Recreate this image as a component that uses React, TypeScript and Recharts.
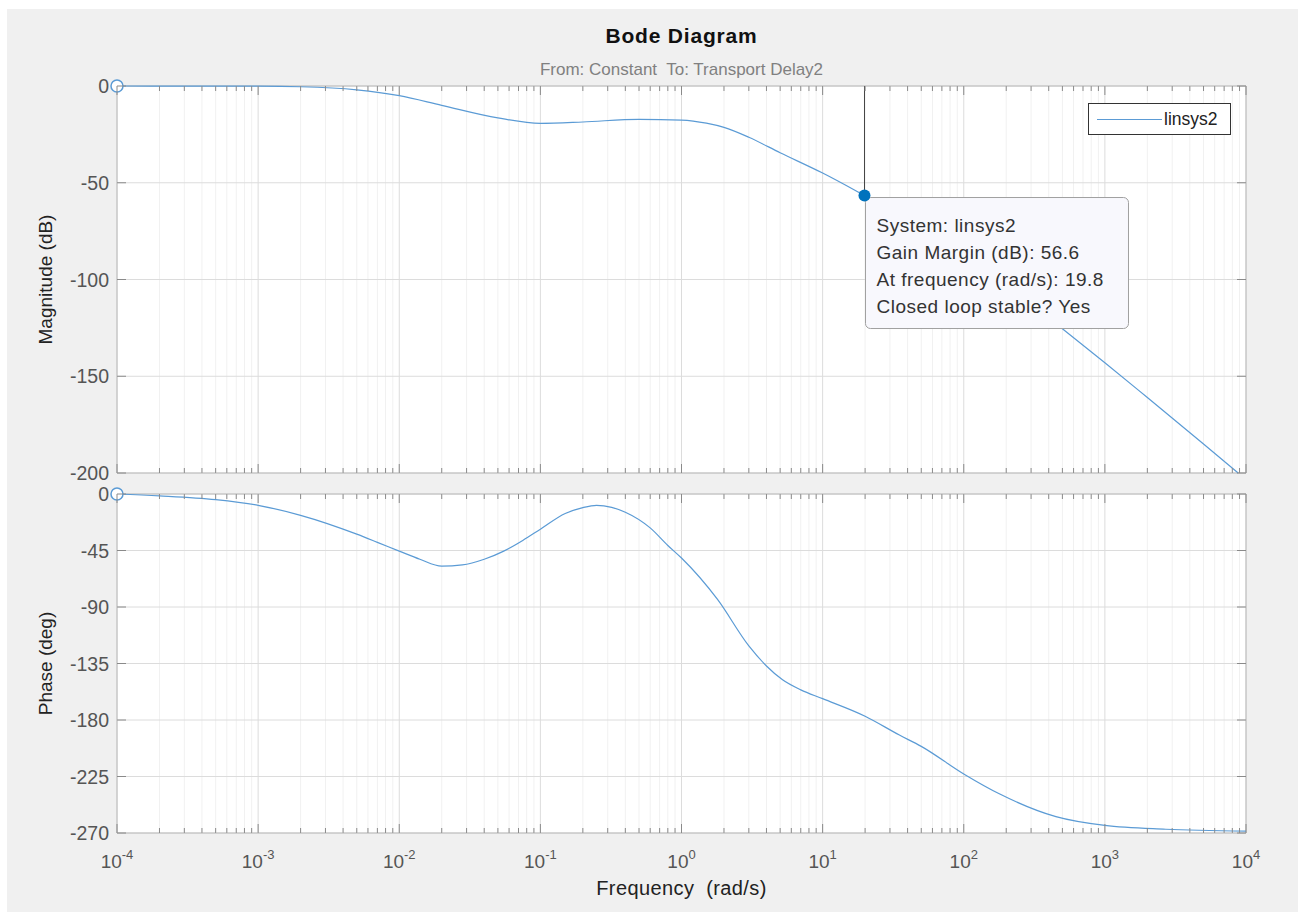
import React from "react"
import { Line, LineChart, ReferenceArea, ReferenceDot, ReferenceLine, XAxis, YAxis } from "recharts"

// magnitude
const magFreq = [1e-4, 3e-4, 1e-3, 2e-3, 5e-3, 1e-2, 2e-2, 5e-2, 0.1, 0.2, 0.5, 1, 1.5, 2, 3, 5, 10, 19.8, 50, 100, 200, 500, 1000, 2000, 5000, 8800]
const magDb = [0, -0.05, -0.1, -0.4, -2, -5, -10, -16.5, -19.3, -18.6, -17.2, -17.6, -19.2, -21.4, -26.5, -34.5, -45, -56.6, -73, -87, -103, -125.5, -143, -161, -185, -200]

// phase
const phaseFreq = [1e-4, 2e-4, 5e-4, 1e-3, 2e-3, 5e-3, 7e-3, 1e-2, 1.4e-2, 2e-2, 2.8e-2, 4e-2, 5.5e-2, 7.5e-2, 0.1, 0.15, 0.2, 0.25, 0.32, 0.4, 0.6, 0.8, 1, 1.8, 3, 4, 5.2, 7, 10, 20, 35, 50, 100, 180, 450, 1000, 2700, 10000]
const phaseDeg = [0, -1.5, -4.5, -9, -17, -32, -38.5, -45.5, -52, -57.5, -56.5, -52, -45.5, -37, -28, -15.5, -10.8, -9, -10.6, -14.5, -27, -41, -51, -84, -121, -137, -148, -156, -163, -177, -192, -201, -223, -239, -257, -264, -267, -268.5]

const decades = [1e-4, 1e-3, 1e-2, 1e-1, 1, 10, 100, 1000, 10000]
const minorSteps = [2, 3, 4, 5, 6, 7, 8, 9]
const magTicks = [0, -50, -100, -150, -200]
const phaseTicks = [0, -45, -90, -135, -180, -225, -270]

const gainMargin = { freq: 19.8, db: -56.6 }
const tipLines = ["System: linsys2", "Gain Margin (dB): 56.6", "At frequency (rad/s): 19.8", "Closed loop stable? Yes"]

const minorTicks = decades.slice(0, -1).flatMap((d) => minorSteps.map((m) => m * d))
const xTicks = [...decades, ...minorTicks].sort((a, b) => a - b)

const magData = magFreq.map((f, i) => ({ f, v: magDb[i] }))
const phaseData = phaseFreq.map((f, i) => ({ f, v: phaseDeg[i] }))

const FONT = "'Liberation Sans', Arial, sans-serif"
const LINE = "#5b9bd5"
const PLOT_W = 1129

const isMajor = (v: number) => decades.some((d) => Math.abs(v / d - 1) < 1e-6)

const XTick = (props: any) => {
    const { x, y, payload, plotH, labels } = props
    const v = payload.value
    const major = isMajor(v)
    const exp = Math.round(Math.log10(v))
    const len = major ? 9 : 5
    return (
        <g>
            <line x1={x} x2={x} y1={y} y2={y - len} stroke="#8a8a8a" />
            <line x1={x} x2={x} y1={y - plotH} y2={y - plotH + len} stroke="#8a8a8a" />
            {labels && major && (
                <text x={x} y={y + 35} textAnchor="middle" fontSize={19} fill="#555" fontFamily={FONT}>
                    10<tspan dy={-9} fontSize={13}>{exp}</tspan>
                </text>
            )}
        </g>
    )
}

const YTick = (props: any) => {
    const { x, y, payload } = props
    return (
        <g>
            <line x1={x} x2={x + 9} y1={y} y2={y} stroke="#8a8a8a" />
            <line x1={x + PLOT_W} x2={x + PLOT_W - 9} y1={y} y2={y} stroke="#8a8a8a" />
            <text x={x - 8} y={y + 7} textAnchor="end" fontSize={19.5} fill="#555" fontFamily={FONT}>
                {payload.value}
            </text>
        </g>
    )
}

const YTitle = (props: any) => {
    const { viewBox, text } = props
    const cy = viewBox.y + viewBox.height / 2
    return (
        <text x={52} y={cy} transform={`rotate(-90, 52, ${cy})`} textAnchor="middle" fontSize={19} fill="#222" fontFamily={FONT}>
            {text}
        </text>
    )
}

const XTitle = (props: any) => {
    const { viewBox } = props
    return (
        <text x={viewBox.x + viewBox.width / 2} y={viewBox.y + 62} textAnchor="middle" fontSize={20} letterSpacing={0.4} fill="#222" fontFamily={FONT} style={{ whiteSpace: "pre" }}>
            {"Frequency  (rad/s)"}
        </text>
    )
}

const DataTip = (props: any) => {
    const { cx, cy } = props
    return (
        <g>
            <rect x={cx + 1} y={cy + 2} width={263} height={131} rx={5} fill="#f8f8fd" stroke="#a0a0a0" />
            {tipLines.map((t, i) => (
                <text key={t} x={cx + 12} y={cy + 36 + i * 27} fontSize={19} letterSpacing={0.5} fill="#333" fontFamily={FONT}>
                    {t}
                </text>
            ))}
            <circle cx={cx} cy={cy} r={6} fill="#0072bd" />
        </g>
    )
}

const gridLines = (yTicks: number[]) => [
    ...minorTicks.map((t) => <ReferenceLine key={`m${t}`} x={t} stroke="#f1f1f1" />),
    ...decades.map((t) => <ReferenceLine key={`M${t}`} x={t} stroke="#dcdcdc" />),
    ...yTicks.map((t) => <ReferenceLine key={`y${t}`} y={t} stroke="#dcdcdc" />),
]

export default function App() {
    return (
        <div style={{ position: "absolute", left: 0, top: 0, width: 1298, height: 914, background: "#fff" }}>
            <div style={{ position: "absolute", left: 7, top: 9, width: 1291, height: 903, background: "#f0f0f0" }} />
            <div style={{ position: "absolute", left: 117, top: 24, width: PLOT_W, textAlign: "center", fontFamily: FONT, fontSize: 21, letterSpacing: 0.8, fontWeight: "bold", color: "#111" }}>
                Bode Diagram
            </div>
            <div style={{ position: "absolute", left: 117, top: 60, width: PLOT_W, textAlign: "center", fontFamily: FONT, fontSize: 17, color: "#808080", whiteSpace: "pre" }}>
                {"From: Constant  To: Transport Delay2"}
            </div>

            <div style={{ position: "absolute", left: 0, top: 0 }}>
                <LineChart width={1298} height={485} data={magData} margin={{ top: 86, right: 52, bottom: 7, left: 57 }}>
                    <ReferenceArea x1={1e-4} x2={1e4} y1={-200} y2={0} fill="#fff" fillOpacity={1} stroke="none" />
                    {gridLines(magTicks)}
                    <XAxis dataKey="f" type="number" scale="log" domain={[1e-4, 1e4]} ticks={xTicks} interval={0} height={5}
                        tickSize={0} tickMargin={0} tickLine={false} axisLine={false} tick={<XTick plotH={387} labels={false} />} />
                    <YAxis type="number" domain={[-200, 0]} ticks={magTicks} interval={0} width={60} tickSize={0} tickMargin={0} tickLine={false}
                        axisLine={false} tick={<YTick />} label={<YTitle text="Magnitude (dB)" />} />
                    <ReferenceArea x1={1e-4} x2={1e4} y1={-200} y2={0} fill="none" stroke="#9a9a9a" />
                    <ReferenceLine segment={[{ x: gainMargin.freq, y: 0 }, { x: gainMargin.freq, y: gainMargin.db }]} stroke="#444" />
                    <Line dataKey="v" type="monotone" stroke={LINE} strokeWidth={1.2} dot={false} activeDot={false} isAnimationActive={false} />
                    <ReferenceDot x={magFreq[0]} y={magDb[0]} r={6} fill="#fff" stroke={LINE} strokeWidth={1.5} />
                    <ReferenceDot x={gainMargin.freq} y={gainMargin.db} r={6} shape={<DataTip />} />
                </LineChart>
            </div>

            <div style={{ position: "absolute", left: 1088, top: 103, width: 141, height: 30, background: "#fff", border: "1px solid #333", fontFamily: FONT, fontSize: 17.5, color: "#222", display: "flex", alignItems: "center" }}>
                <span style={{ display: "inline-block", width: 65, borderTop: `1px solid ${LINE}`, marginLeft: 8, marginRight: 2 }} />
                linsys2
            </div>

            <div style={{ position: "absolute", left: 0, top: 480 }}>
                <LineChart width={1298} height={434} data={phaseData} margin={{ top: 14, right: 52, bottom: 21, left: 57 }}>
                    <ReferenceArea x1={1e-4} x2={1e4} y1={-270} y2={0} fill="#fff" fillOpacity={1} stroke="none" />
                    {gridLines(phaseTicks)}
                    <XAxis dataKey="f" type="number" scale="log" domain={[1e-4, 1e4]} ticks={xTicks} interval={0} height={60}
                        tickSize={0} tickMargin={0} tickLine={false} axisLine={false} tick={<XTick plotH={339} labels />} label={<XTitle />} />
                    <YAxis type="number" domain={[-270, 0]} ticks={phaseTicks} interval={0} width={60} tickSize={0} tickMargin={0} tickLine={false}
                        axisLine={false} tick={<YTick />} label={<YTitle text="Phase (deg)" />} />
                    <ReferenceArea x1={1e-4} x2={1e4} y1={-270} y2={0} fill="none" stroke="#9a9a9a" />
                    <Line dataKey="v" type="monotone" stroke={LINE} strokeWidth={1.2} dot={false} activeDot={false} isAnimationActive={false} />
                    <ReferenceDot x={phaseFreq[0]} y={phaseDeg[0]} r={6} fill="#fff" stroke={LINE} strokeWidth={1.5} />
                </LineChart>
            </div>
        </div>
    )
}
